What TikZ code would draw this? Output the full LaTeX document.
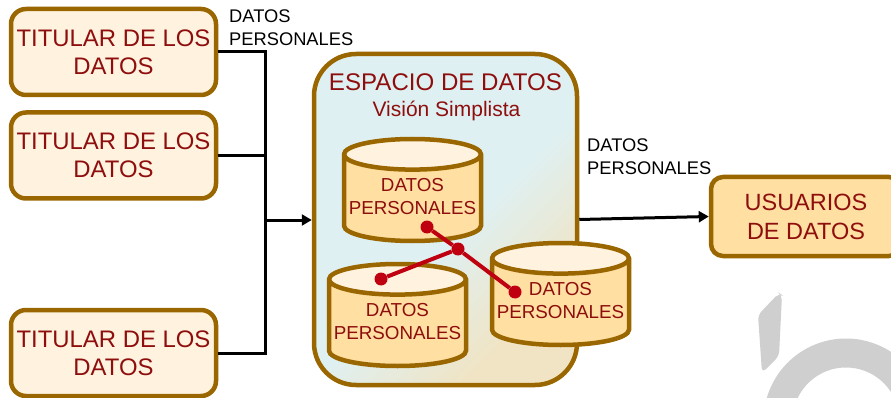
\documentclass[tikz,border=0pt]{standalone}
\usepackage{fontspec}
\setmainfont{Liberation Sans}
\usetikzlibrary{shapes.geometric,arrows.meta}
\definecolor{brownline}{HTML}{996600}
\definecolor{darkred}{HTML}{8E0E0E}
\definecolor{paleorange}{HTML}{FFF3DF}
\definecolor{midorange}{HTML}{FFDFA2}
\definecolor{linkred}{HTML}{BE0010}
\definecolor{markgray}{HTML}{CFCFCF}
\definecolor{paleblue}{HTML}{DFF0F2}
\definecolor{palesand}{HTML}{F0E4C4}
\pgfdeclareverticalshading{espaciofade}{100bp}{color(0bp)=(palesand); color(28bp)=(palesand); color(47bp)=(paleblue); color(100bp)=(paleblue)}
\tikzset{
	titular/.style={draw=brownline,line width=4.5pt,fill=paleorange,rounded corners=15pt,minimum width=205pt,minimum height=86pt,inner sep=0pt,align=center,text=darkred,font=\fontsize{23.9}{28}\selectfont},
	usuarios/.style={draw=brownline,line width=4.5pt,fill=midorange,rounded corners=12pt,minimum width=190pt,minimum height=79pt,inner sep=0pt,align=center,text=darkred,font=\fontsize{23.5}{29}\selectfont},
	espaciobox/.style={draw=brownline,line width=4.5pt,rounded corners=42pt,minimum width=263pt,minimum height=331pt,shading=espaciofade,shading angle=45},
	datos/.style={cylinder,shape border rotate=90,anchor=shape center,draw=brownline,line width=4.5pt,cylinder uses custom fill,cylinder body fill=midorange,cylinder end fill=paleorange,shape aspect=0.24,minimum width=137pt,minimum height=102pt,inner sep=0pt,align=center,text depth=4pt,text=darkred,font=\fontsize{18.8}{23}\selectfont},
	rotulo/.style={inner sep=0pt,align=left,anchor=north west,font=\fontsize{18.3}{22.5}\selectfont},
	wire/.style={line width=3pt},
	flecha/.style={wire,-{Triangle[length=10pt,width=11pt]}},
	enlace/.style={draw=linkred,line width=4pt},
	punto/.style={circle,fill=linkred,inner sep=0pt,minimum size=13pt},
}
\begin{document}
\begin{tikzpicture}[x=1pt,y=-1pt]
	\useasboundingbox (0,0) rectangle (891,398);
	% marca de agua
	\begin{scope}
		\clip (0,0) rectangle (891,398);
		\fill[markgray,rounded corners=5pt] (779,293) -- (758,315) -- (762,373) -- (779,356) -- (782,295) -- cycle;
		\draw[markgray,line width=29pt] (846,421) ++(-170:68) arc [start angle=-170,end angle=-10,radius=68];
	\end{scope}
	% cajas
	\node[titular] (tit1) at (113.5,52) {TITULAR DE LOS\\DATOS};
	\node[titular] (tit2) at (113.5,155.5) {TITULAR DE LOS\\DATOS};
	\node[titular] (tit3) at (113.5,353) {TITULAR DE LOS\\DATOS};
	\node[usuarios] (usu) at (806,216.5) {USUARIOS\\DE DATOS};
	\node[espaciobox] (espacio) at (445.5,219.5) {};
	\node[inner sep=0pt,text=darkred,font=\fontsize{24.1}{28}\selectfont] (esptit) at (445.5,82) {ESPACIO DE DATOS};
	\node[inner sep=0pt,text=darkred,font=\fontsize{21}{24}\selectfont] (espsub) at (446.5,111) {Visión Simplista};
	% cilindros
	\node[datos] (cyl1) at (412.5,190) {DATOS\\PERSONALES};
	\node[datos] (cyl2) at (397.5,315) {DATOS\\PERSONALES};
	\node[datos] (cyl3) at (560.5,294) {DATOS\\PERSONALES};
	% conectores
	\coordinate (junc) at (265,220);
	\draw[wire] (tit1.east) -| (junc);
	\draw[wire] (tit3.east) -| (junc);
	\draw[wire] (tit2.east) -- (tit2.east -| junc);
	\draw[flecha] (junc) -- (junc -| espacio.west);
	\draw[flecha] (espacio.east) -- (usu.west);
	% enlaces rojos
	\node[punto] (p1) at (427,227) {};
	\node[punto] (p2) at (458,249) {};
	\node[punto] (p3) at (381,279) {};
	\node[punto] (p4) at (515,292) {};
	\draw[enlace] (p1) -- (p2) -- (p4);
	\draw[enlace] (p2) -- (p3);
	% rotulos
	\node[rotulo] (lab1) at (229,10) {DATOS\\PERSONALES};
	\node[rotulo] (lab2) at (587,139) {DATOS\\PERSONALES};
\end{tikzpicture}
\end{document}
